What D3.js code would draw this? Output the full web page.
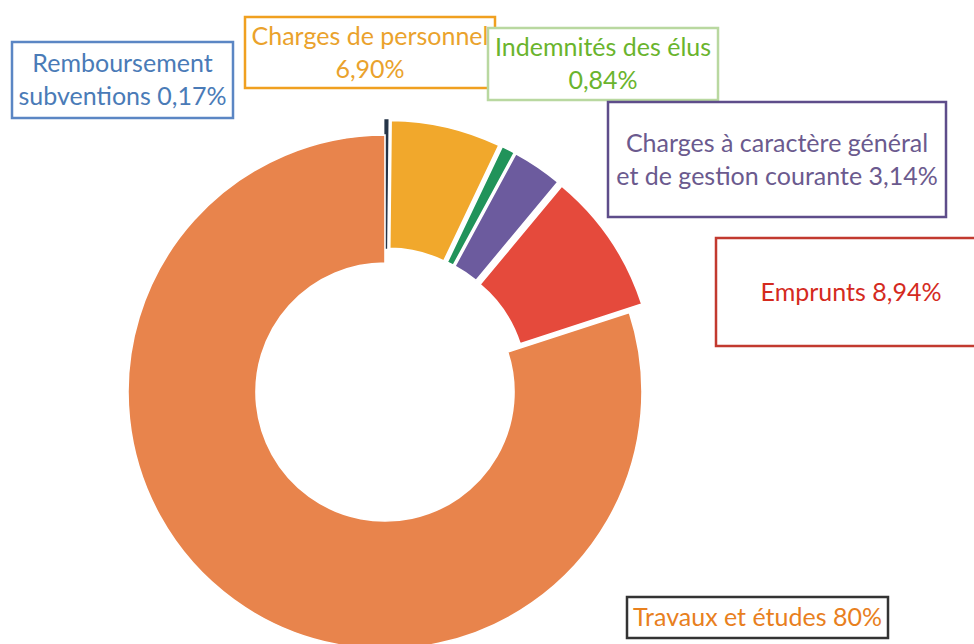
<!DOCTYPE html>
<html>
<head>
<meta charset="utf-8">
<script src="https://cdn.jsdelivr.net/npm/d3@7"></script>
<style>
  body { margin: 0; background: #fff; }
  svg { display: block; font-family: Lato, "Open Sans", sans-serif; }
</style>
</head>
<body>
<script>
// data
var categories = ["Remboursement subventions", "Charges de personnel", "Indemnités des élus",
                  "Charges à caractère général et de gestion courante", "Emprunts", "Travaux et études"];
var values = [0.17, 6.90, 0.84, 3.14, 8.94, 80];
var labelLines = [
    ["Remboursement", "subventions 0,17%"],
    ["Charges de personnel", "6,90%"],
    ["Indemnités des élus", "0,84%"],
    ["Charges à caractère général", "et de gestion courante 3,14%"],
    ["Emprunts 8,94%"],
    ["Travaux et études 80%"]
];

function init() {
    var w = 974;
    var h = 644;
    var cx = 385, cy = 392;
    var innerR = 129, outerR = 257;
    var explode = 15;

    var sliceColors = ["#243447", "#f1a82c", "#21935a", "#6c5b9e", "#e54a3c", "#e8844c"];
    var textColors  = ["#4a7bb7", "#eaa22c", "#6ab42d", "#6b5a8e", "#d42a1e", "#e8801e"];
    var boxColors   = ["#5b86c4", "#f0a020", "#b9d8a0", "#5e4d8a", "#c23a2f", "#333333"];
    // label boxes: x, y, width, height
    var boxes = [
        [12, 42, 221, 76],
        [245, 17, 250, 71],
        [488, 28, 230, 72],
        [608, 102, 338, 115],
        [716, 238, 270, 108],
        [627, 597, 261, 41]
    ];

    var svg = d3.select("body")
                .append("svg")
                .attr("width", w)
                .attr("height", h);

    var pie = d3.pie()
                .sort(null)
                .value(function(d){ return d; });
    var arc = d3.arc()
                .innerRadius(innerR)
                .outerRadius(outerR);

    var arcs = pie(values);

    svg.append("g")
        .attr("transform", "translate(" + cx + "," + cy + ")")
        .selectAll("path")
        .data(arcs)
        .enter()
        .append("path")
        .attr("d", arc)
        // small slices are pulled out from the ring
        .attr("transform", function(d){
            if (d.value > 50) return null;
            var mid = (d.startAngle + d.endAngle) / 2;
            return "translate(" + (Math.sin(mid) * explode) + "," + (-Math.cos(mid) * explode) + ")";
        })
        .attr("fill", function(d, i){ return sliceColors[i]; })
        .attr("stroke", function(d, i){ return d.value < 0.5 ? sliceColors[i] : "#fff"; })
        .attr("stroke-width", function(d){ return d.value < 0.5 ? 1.4 : 1.6; });

    // labels in boxes
    var lab = svg.append("g")
                .selectAll("g")
                .data(categories)
                .enter()
                .append("g");

    lab.append("rect")
        .attr("x", function(d, i){ return boxes[i][0]; })
        .attr("y", function(d, i){ return boxes[i][1]; })
        .attr("width", function(d, i){ return boxes[i][2]; })
        .attr("height", function(d, i){ return boxes[i][3]; })
        .attr("fill", "#fff")
        .attr("stroke", function(d, i){ return boxColors[i]; })
        .attr("stroke-width", 2.5);

    lab.each(function(d, i){
        var b = boxes[i];
        var lines = labelLines[i];
        var lh = 33;
        var y0 = b[1] + b[3] / 2 - (lines.length - 1) * lh / 2;
        d3.select(this).selectAll("text")
            .data(lines)
            .enter()
            .append("text")
            .attr("x", b[0] + b[2] / 2)
            .attr("y", function(t, k){ return y0 + k * lh; })
            .attr("dy", "0.35em")
            .attr("text-anchor", "middle")
            .style("font-size", "25px")
            .attr("fill", textColors[i])
            .text(function(t){ return t; });
    });
}
window.onload = init;
</script>
</body>
</html>
